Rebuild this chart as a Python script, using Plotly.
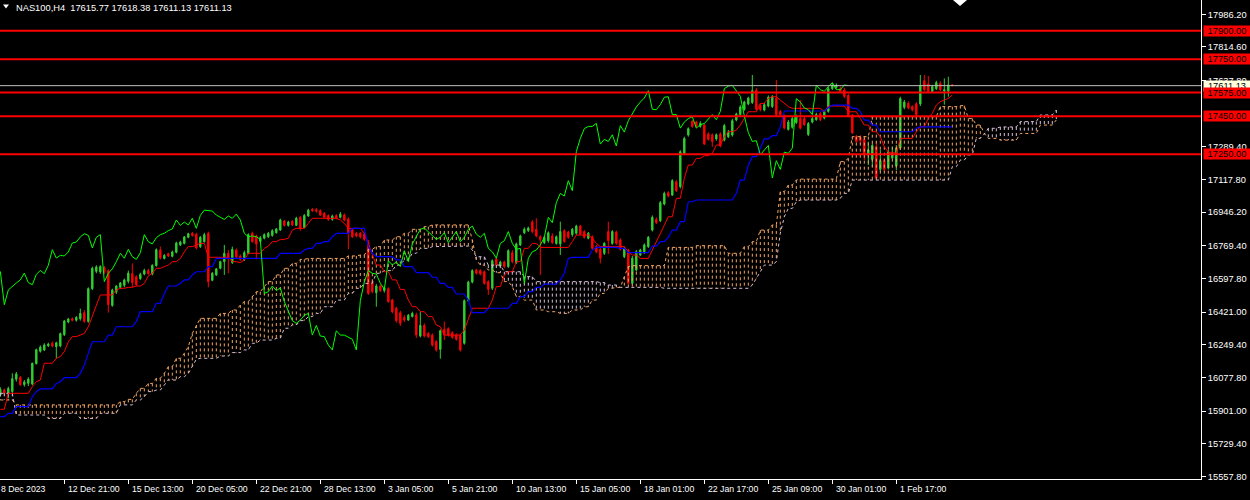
import plotly.graph_objects as go

# ---------------- data (NAS100, H4) ----------------
opens = [15985,16012,15994,16003,16068,16078,16040,16047,16043,16150,
16215,16222,16244,16257,16239,16243,16302,16369,16386,16378,
16386,16418,16372,16544,16635,16632,16654,16639,16456,16526,
16551,16562,16583,16623,16607,16597,16621,16640,16621,16665,
16747,16703,16728,16714,16735,16774,16782,16814,16835,16830,
16765,16791,16835,16588,16616,16651,16686,16730,16681,16747,
16716,16698,16730,16835,16821,16793,16809,16817,16824,16838,
16852,16900,16877,16898,16877,16919,16866,16926,16961,16959,
16954,16940,16928,16908,16928,16919,16931,16910,16856,16835,
16835,16831,16786,16576,16523,16558,16534,16544,16485,16441,
16418,16393,16379,16397,16406,16295,16351,16309,16300,16266,
16225,16330,16334,16313,16302,16299,16257,16481,16579,16642,
16639,16633,16581,16546,16700,16663,16684,16660,16733,16681,
16774,16838,16849,16895,16856,16817,16786,16796,16821,16782,
16779,16849,16842,16828,16835,16873,16844,16809,16817,16765,
16751,16730,16844,16782,16842,16800,16712,16747,16572,16642,
16721,16733,16765,16852,16908,16901,16989,17049,17036,17106,
17080,17255,17352,17424,17420,17397,17404,17357,17352,17331,
17357,17325,17343,17352,17431,17459,17485,17515,17522,17588,
17508,17483,17504,17501,17545,17475,17452,17381,17392,17417,
17439,17438,17354,17420,17432,17464,17441,17476,17595,17602,
17595,17588,17560,17455,17343,17340,17329,17248,17224,17290,
17171,17217,17178,17231,17189,17283,17497,17518,17501,17516,
17515,17637,17620,17581,17595,17623,17583,17583,17615.77]

highs = [16026,16019,16029,16099,16106,16085,16064,16078,16155,16229,
16246,16257,16260,16267,16265,16313,16379,16390,16393,16400,
16439,16432,16551,16660,16667,16667,16663,16646,16544,16563,
16579,16597,16639,16677,16614,16628,16649,16649,16672,16756,
16765,16726,16733,16744,16791,16796,16821,16838,16842,16838,
16821,16838,16844,16632,16653,16691,16774,16747,16765,16756,
16724,16744,16835,16844,16828,16821,16835,16842,16856,16863,
16912,16905,16901,16905,16922,16926,16936,16964,16968,16968,
16961,16947,16935,16933,16936,16947,16940,16919,16863,16842,
16842,16838,16800,16590,16569,16565,16555,16551,16491,16449,
16428,16406,16411,16423,16418,16423,16362,16316,16309,16274,
16330,16371,16341,16320,16309,16306,16488,16586,16646,16649,
16646,16640,16588,16698,16709,16691,16691,16751,16747,16786,
16828,16866,16870,16905,16914,16824,16821,16845,16835,16824,
16896,16856,16849,16863,16880,16880,16852,16842,16824,16774,
16758,16789,16896,16852,16849,16809,16765,16754,16716,16747,
16754,16782,16821,16929,16919,17005,17054,17057,17119,17115,
17272,17343,17392,17431,17427,17424,17413,17367,17360,17360,
17366,17410,17378,17437,17469,17508,17532,17553,17667,17599,
17518,17522,17560,17562,17641,17483,17459,17431,17448,17459,
17536,17448,17420,17448,17469,17473,17483,17606,17627,17623,
17606,17599,17567,17462,17352,17350,17343,17317,17308,17317,
17273,17229,17273,17290,17299,17553,17536,17529,17508,17525,
17667,17667,17662,17616,17637,17634,17649,17658,17618.38]

lows = [15977,15984,15968,15991,16055,16032,16029,16032,16036,16145,
16208,16216,16237,16236,16178,16236,16295,16362,16372,16371,
16376,16365,16365,16537,16625,16621,16621,16418,16449,16516,
16544,16551,16572,16551,16558,16590,16614,16618,16614,16660,
16698,16698,16710,16709,16730,16768,16777,16809,16817,16751,
16758,16786,16551,16583,16611,16646,16616,16625,16674,16704,
16691,16689,16724,16786,16698,16786,16803,16810,16817,16833,
16847,16870,16870,16873,16873,16849,16861,16922,16947,16943,
16926,16914,16901,16901,16908,16914,16898,16751,16810,16814,
16807,16796,16511,16519,16449,16526,16523,16470,16414,16365,
16348,16369,16376,16393,16285,16288,16288,16285,16239,16213,
16176,16274,16292,16281,16271,16213,16250,16474,16572,16618,
16614,16565,16511,16537,16660,16656,16651,16653,16677,16674,
16768,16831,16842,16835,16814,16616,16779,16786,16779,16775,
16721,16786,16807,16817,16828,16824,16807,16803,16751,16730,
16677,16721,16726,16775,16775,16744,16704,16565,16565,16635,
16716,16726,16758,16845,16884,16894,16982,17024,17031,17052,
17071,17248,17343,17390,17389,17390,17299,17322,17290,17322,
17287,17318,17336,17343,17424,17452,17480,17508,17515,17480,
17476,17476,17497,17494,17452,17452,17381,17375,17385,17410,
17381,17399,17346,17413,17427,17424,17434,17469,17588,17595,
17574,17546,17445,17357,17311,17305,17220,17194,17185,17115,
17159,17159,17171,17224,17168,17273,17487,17487,17476,17452,
17504,17581,17574,17574,17588,17583,17511,17553,17611.13]

closes = [16015,15994,16019,16071,16096,16040,16054,16069,16152,16223,
16237,16248,16253,16243,16260,16308,16374,16385,16378,16393,
16414,16372,16544,16651,16658,16660,16635,16460,16537,16558,
16574,16590,16626,16576,16565,16619,16640,16623,16667,16749,
16705,16719,16716,16737,16784,16789,16816,16833,16824,16758,
16814,16828,16581,16625,16648,16686,16730,16704,16751,16712,
16698,16733,16828,16791,16779,16812,16828,16835,16849,16858,
16905,16877,16894,16879,16914,16861,16929,16957,16954,16952,
16931,16919,16908,16926,16914,16936,16905,16835,16817,16821,
16817,16803,16519,16528,16558,16534,16548,16476,16423,16376,
16362,16379,16404,16414,16300,16351,16295,16292,16248,16222,
16323,16300,16300,16288,16278,16222,16481,16579,16639,16625,
16621,16572,16541,16691,16669,16684,16660,16744,16686,16779,
16821,16856,16863,16844,16821,16803,16814,16838,16786,16817,
16844,16791,16814,16856,16873,16831,16814,16835,16756,16738,
16704,16782,16796,16844,16782,16751,16756,16572,16704,16738,
16747,16774,16814,16919,16891,16996,17045,17031,17112,17059,
17264,17334,17385,17397,17397,17413,17304,17329,17318,17353,
17294,17401,17367,17427,17462,17499,17525,17546,17585,17487,
17485,17511,17550,17553,17459,17459,17388,17420,17438,17448,
17388,17406,17412,17438,17459,17432,17476,17595,17609,17613,
17581,17555,17452,17364,17318,17322,17248,17273,17297,17126,
17217,17171,17262,17255,17283,17543,17525,17494,17485,17459,
17613,17590,17581,17606,17627,17590,17590,17615,17611.13]

# Ichimoku lines: bar index where the level changes, and the level
tenkan_idx = [0,2,8,9,10,11,14,15,16,17,18,20,21,22,23,24,25,29,30,32,34,36,37,38,39,41,42,43,45,46,
              47,49,50,52,58,60,61,62,66,67,68,70,72,73,74,77,78,85,86,87,91,92,93,94,96,98,100,102,103,105,
              107,109,110,111,116,117,118,123,124,126,127,129,131,133,135,143,144,148,149,150,157,158,160,163,164,165,166,167,169,171,
              172,174,176,178,179,181,182,184,185,186,187,190,192,193,195,196,197,198,206,207,212,215,216,218,220,221,222,224,225,229,
              230,232,233,234,235,236,237,238]
tenkan_val = [15910,15994,16029,16055,16064,16152,16178,16187,16213,16265,16292,16300,16309,16344,16397,16449,16511,16537,16546,16551,
              16558,16572,16611,16625,16651,16660,16668,16686,16703,16738,16765,16773,16782,16709,16686,16681,16695,16730,16756,16768,
              16791,16803,16809,16852,16861,16887,16914,16905,16887,16861,16835,16782,16721,16668,16633,16590,16540,16484,16449,16423,
              16397,16353,16344,16300,16327,16388,16441,16484,16555,16616,16633,16686,16756,16782,16761,16791,16826,16809,16782,16765,
              16738,16721,16703,16747,16791,16835,16887,16922,17019,17124,17194,17229,17243,17255,17299,17343,17369,17378,17404,17439,
              17474,17518,17544,17553,17536,17518,17501,17492,17474,17504,17474,17439,17404,17369,17343,17290,17261,17255,17334,17369,
              17395,17439,17466,17509,17527,17536,17544,17562]

kijun_idx = [0,2,4,8,9,10,14,15,16,20,21,22,23,27,29,34,35,39,41,42,45,46,48,49,52,54,70,76,77,79,
             81,83,84,88,92,93,94,99,101,104,108,110,112,114,117,118,122,128,130,132,134,136,140,141,142,143,148,149,155,157,
             163,165,167,168,170,172,174,184,185,187,188,190,191,193,195,196,207,208,213,215,216,218,220,229,230]
kijun_val = [15871,15889,15924,15976,16003,16017,16046,16055,16076,16099,16143,16204,16265,16300,16344,16371,16423,16467,16519,16558,
             16572,16590,16616,16633,16660,16703,16730,16747,16756,16782,16791,16817,16835,16861,16765,16730,16712,16695,16660,16628,
             16604,16572,16551,16516,16484,16418,16441,16467,16502,16528,16551,16568,16590,16625,16703,16709,16747,16761,16756,16733,
             16768,16791,16814,16852,16896,17001,17010,17045,17115,17194,17238,17282,17331,17348,17395,17478,17495,17509,17492,17474,
             17430,17404,17369,17387,17395]

spanA_idx = [0,4,30,32,34,35,37,39,41,42,44,46,47,48,49,50,55,58,60,61,63,64,66,67,69,71,73,75,77,87,
             90,92,94,96,99,101,103,106,108,118,119,120,122,124,126,128,129,131,134,137,140,143,146,148,150,152,154,156,157,158,
             167,174,182,186,188,190,193,195,197,199,200,210,212,213,218,235,240,242,244,246,247,250,255,260,264]
spanA_val = [15959,15933,15950,15962,15994,16020,16046,16073,16099,16134,16178,16204,16239,16309,16353,16388,16414,16432,16458,16476,
             16502,16528,16555,16581,16616,16651,16677,16698,16703,16716,16721,16751,16765,16800,16817,16835,16856,16870,16879,16800,
             16695,16668,16642,16628,16581,16555,16502,16484,16432,16423,16414,16432,16449,16484,16519,16546,16551,16607,16660,16665,
             16761,16770,16730,16765,16791,16852,16879,17054,17089,17115,17120,17212,17229,17343,17448,17501,17506,17439,17404,17360,
             17334,17325,17360,17404,17431]

spanB_idx = [0,4,12,16,20,25,30,34,36,37,39,41,42,45,47,48,49,50,55,58,61,63,65,69,71,73,75,77,79,81,
             84,87,89,91,94,96,99,101,103,105,108,116,118,119,122,126,131,134,150,152,155,166,188,189,190,191,194,195,196,197,
             199,200,210,211,213,238,240,242,244,246,247,250,255,260,264]
spanB_val = [15994,15880,15862,15889,15862,15889,15933,15959,15976,16003,16011,16038,16064,16081,16099,16134,16173,16178,16190,16208,
             16222,16257,16274,16283,16336,16353,16376,16397,16414,16449,16484,16519,16546,16572,16625,16639,16668,16695,16730,16756,
             16765,16768,16747,16712,16668,16633,16607,16581,16576,16563,16551,16546,16563,16598,16633,16668,16686,16835,16922,16966,
             17001,17010,17019,17045,17115,17185,17220,17247,17334,17357,17387,17394,17422,17457,17483]

levels = [17900.0, 17750.0, 17575.0, 17450.0, 17250.0]
bid_price = 17611.13
title_text = "NAS100,H4\u00a0\u00a017615.77 17618.38 17611.13 17611.13"

ytick_vals = [15557.8, 15729.4, 15901.0, 16077.8, 16249.4, 16421.0, 16597.8, 16769.4,
              16946.2, 17117.8, 17289.4, 17637.8, 17814.6, 17986.2]
xtick_bars = [0, 16, 32, 48, 64, 80, 96, 112, 128, 144, 160, 176, 192, 208, 224]
xtick_text = ["8 Dec 2023", "12 Dec 21:00", "15 Dec 13:00", "20 Dec 05:00", "22 Dec 21:00",
              "28 Dec 13:00", "3 Jan 05:00", "5 Jan 21:00", "10 Jan 13:00", "15 Jan 05:00",
              "18 Jan 01:00", "22 Jan 17:00", "25 Jan 09:00", "30 Jan 01:00", "1 Feb 17:00"]

SHIFT = 26
# ---------------------------------------------------

N = len(closes)
bars = list(range(N))
NC = N + SHIFT


def hold(idx, val, n):
    out = []
    j = 0
    for i in range(n):
        while j + 1 < len(idx) and idx[j + 1] <= i:
            j += 1
        out.append(val[j])
    return out


tenkan = hold(tenkan_idx, tenkan_val, N)
kijun = hold(kijun_idx, kijun_val, N)
span_a = hold(spanA_idx, spanA_val, NC)
span_b = hold(spanB_idx, spanB_val, NC)

FONT = "Liberation Sans, Arial, sans-serif"
SANDY = "#F4A460"
THISTLE = "#D8BFD8"
DOT = "3px,3px"

fig = go.Figure()

# cloud (dotted histogram between the spans)
ox, oy, tx, ty = [], [], [], []
for i in range(NC):
    a, b = span_a[i], span_b[i]
    if a >= b:
        ox += [i, i, None]
        oy += [a, b, None]
    else:
        tx += [i, i, None]
        ty += [b, a, None]
fig.add_trace(go.Scatter(x=ox, y=oy, mode="lines", line=dict(color=SANDY, width=1, dash=DOT),
                         hoverinfo="skip", showlegend=False))
fig.add_trace(go.Scatter(x=tx, y=ty, mode="lines", line=dict(color=THISTLE, width=1, dash=DOT),
                         hoverinfo="skip", showlegend=False))
fig.add_trace(go.Scatter(x=list(range(NC)), y=span_a, mode="lines",
                         line=dict(color=SANDY, width=1, dash=DOT), hoverinfo="skip", showlegend=False))
fig.add_trace(go.Scatter(x=list(range(NC)), y=span_b, mode="lines",
                         line=dict(color=THISTLE, width=1, dash=DOT), hoverinfo="skip", showlegend=False))

# candles
fig.add_trace(go.Candlestick(
    x=bars, open=opens, high=highs, low=lows, close=closes,
    increasing=dict(line=dict(color="#32CD32", width=1), fillcolor="#32CD32"),
    decreasing=dict(line=dict(color="#FF0000", width=1), fillcolor="#FF0000"),
    whiskerwidth=0, hoverinfo="skip", showlegend=False))

# tenkan, kijun, chikou
fig.add_trace(go.Scatter(x=bars, y=tenkan, mode="lines", line=dict(color="#FF0000", width=1),
                         hoverinfo="skip", showlegend=False))
fig.add_trace(go.Scatter(x=bars, y=kijun, mode="lines", line=dict(color="#0000FF", width=1.2),
                         hoverinfo="skip", showlegend=False))
fig.add_trace(go.Scatter(x=bars[:N - SHIFT], y=closes[SHIFT:], mode="lines",
                         line=dict(color="#00FF00", width=1), hoverinfo="skip", showlegend=False))

shapes = []
shapes.append(dict(type="line", xref="paper", x0=0, x1=1, yref="y", y0=bid_price, y1=bid_price,
                   line=dict(color="#C0C0C0", width=1)))
for lv in levels:
    shapes.append(dict(type="line", xref="paper", x0=0, x1=1, yref="y", y0=lv, y1=lv,
                       line=dict(color="#FF0000", width=2)))
# small markers (menu triangle, chart shift marker)
shapes.append(dict(type="path", xref="paper", yref="paper",
                   path=f"M {3/1201},{1-4.5/479} L {9/1201},{1-4.5/479} L {6/1201},{1-8.5/479} Z",
                   fillcolor="#FFFFFF", line=dict(width=0)))
shapes.append(dict(type="path", xref="paper", yref="paper",
                   path=f"M {953/1201},1 L {967/1201},1 L {960/1201},{1-6/479} Z",
                   fillcolor="#FFFFFF", line=dict(width=0)))

annotations = []
annotations.append(dict(xref="paper", x=0, xanchor="left", xshift=14, yref="paper", y=1, yanchor="middle",
                        yshift=-7.5, text=title_text, showarrow=False,
                        font=dict(family=FONT, size=9.3, color="#FFFFFF")))
for b, t in zip(xtick_bars, xtick_text):
    annotations.append(dict(xref="x", x=b, xanchor="left", xshift=(-1 if b == 0 else 2),
                            yref="paper", y=0, yanchor="middle", yshift=-10, text=t, showarrow=False,
                            font=dict(family=FONT, size=8.7, color="#FFFFFF")))
annotations.append(dict(xref="paper", x=1, xanchor="left", xshift=2, yref="y", y=bid_price, yanchor="middle",
                        text=f"{bid_price:.2f}", showarrow=False, bgcolor="#FFFFE0", width=46, height=10,
                        borderpad=0, align="center", font=dict(family=FONT, size=9.3, color="#000000")))
for lv in levels:
    annotations.append(dict(xref="paper", x=1, xanchor="left", xshift=2, yref="y", y=lv, yanchor="middle",
                            text=f"{lv:.2f}", showarrow=False, bgcolor="#FF0000", width=46, height=10,
                            borderpad=0, align="center", font=dict(family=FONT, size=9.3, color="#000000")))

fig.update_layout(
    template="none",
    width=1250, height=500, autosize=False,
    margin=dict(l=0, r=49, t=0, b=21, pad=0),
    paper_bgcolor="#000000", plot_bgcolor="#000000",
    showlegend=False, boxgap=0.5,
    shapes=shapes, annotations=annotations,
    xaxis=dict(range=[-0.08, 300.17], showgrid=False, zeroline=False, showline=True,
               linecolor="#FFFFFF", linewidth=1, ticks="outside", ticklen=4, tickcolor="#FFFFFF",
               tickvals=xtick_bars[1:], showticklabels=False, automargin=False,
               rangeslider=dict(visible=False), fixedrange=True),
    yaxis=dict(side="right", range=[15543.6, 18061.4], showgrid=False, zeroline=False, showline=True,
               linecolor="#FFFFFF", linewidth=1, ticks="outside", ticklen=4, tickcolor="#FFFFFF",
               tickvals=ytick_vals, ticktext=[f"{v:.2f}" for v in ytick_vals], automargin=False,
               tickfont=dict(family=FONT, size=9.3, color="#FFFFFF"), fixedrange=True),
)

fig.write_html("out.html", config={"displayModeBar": False, "staticPlot": True},
               post_script="document.body.style.margin='0';document.body.style.background='#000';")
